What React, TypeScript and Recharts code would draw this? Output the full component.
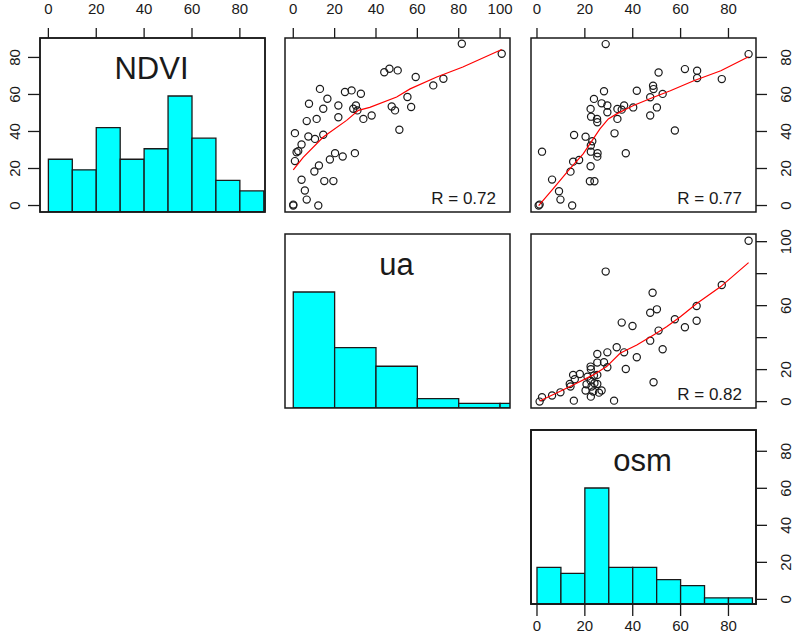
import { ComposedChart, Scatter, XAxis, YAxis, ReferenceArea } from "recharts";

// axis ticks and domains (R extends each range by 4%)
const NDVI_TICKS = [0, 20, 40, 60, 80];
const UA_TICKS = [0, 20, 40, 60, 80, 100];
const OSM_TICKS = [0, 20, 40, 60, 80];
const UA_RIGHT_LABELS = [0, 20, 60, 100];

const NDVI_DOMAIN: [number, number] = [-3.5, 90.5];
const UA_DOMAIN: [number, number] = [-4, 104.8];
const OSM_DOMAIN: [number, number] = [-2.5, 91.5];

// histograms on the diagonal
const NDVI_BREAKS = [0, 10, 20, 30, 40, 50, 60, 70, 80, 90];
const NDVI_COUNTS = [5, 4, 8, 5, 6, 11, 7, 3, 2];
const UA_BREAKS = [0, 20, 40, 60, 80, 100, 120];
const UA_COUNTS = [25, 13, 9, 2, 1, 1];
const OSM_BREAKS = [0, 10, 20, 30, 40, 50, 60, 70, 80, 90];
const OSM_COUNTS = [6, 5, 19, 6, 6, 4, 3, 1, 1];

// upper panels: [x, y]
const UA_NDVI = [
  [81.5, 87.4], [100.8, 82], [44, 72], [46.5, 73.9], [50.5, 73], [59.2, 69.4], [72.6, 68.5],
  [67.7, 64.9], [12.9, 63], [25, 61.3], [28.2, 62.2], [32.7, 60.4], [16.5, 57.7], [7.6, 55],
  [21.8, 54], [14.5, 52.3], [30.3, 54], [29, 52.3], [31, 51.4], [55.2, 58.6], [47.6, 53.5],
  [49.2, 51.4], [57, 53.2], [37.9, 48.6], [33.9, 46.8], [21.8, 47.7], [6.5, 45.6], [11.3, 46.8],
  [51.3, 40.9], [0.8, 39.1], [7.3, 37.3], [10.5, 36], [14.5, 38.2], [4, 33], [2.4, 29.4],
  [1.6, 28.8], [0.8, 24], [20.2, 28.3], [17.7, 24.9], [23.9, 26.5], [29.8, 28.3], [12.4, 21.6],
  [10.2, 18.4], [4, 13.9], [15, 13.2], [19.4, 13.2], [5.6, 8.1], [6.5, 3.2], [12.1, 0],
  [0, 0.5], [0, 0],
];
const UA_NDVI_SMOOTH = [
  [0, 19.3], [4.8, 26], [14.5, 37], [25.8, 46], [31.5, 51.4], [37, 53], [50, 58.6],
  [56.5, 63], [69.4, 69.4], [82, 74.8], [100.8, 84.3],
];

const OSM_NDVI = [
  [28.7, 87.2], [88.4, 81.8], [61.8, 73.7], [50.8, 71.9], [66.9, 72.8], [66.9, 68.9], [77.2, 68.3],
  [28, 61.7], [41.7, 62], [48.5, 64.7], [48.7, 62.9], [52.5, 60.3], [47.3, 58.5], [23.8, 57.6],
  [27, 55.2], [29.4, 54], [22.4, 52.2], [33.6, 52.2], [36.4, 54], [35.4, 51.8], [40.2, 53],
  [29.4, 50.4], [50.1, 53], [22.6, 48], [25.1, 46.8], [25.2, 45], [47.3, 48.6], [33.6, 46.8],
  [57.6, 40.5], [32.4, 39], [15.5, 38.1], [20.3, 37.2], [23.1, 34.7], [22.5, 32.4], [2.1, 29.1],
  [25.3, 28.2], [25.2, 26.4], [37.1, 28.2], [22.5, 29.1], [17.6, 24.6], [15.1, 23.7], [22.4, 21.2],
  [14, 18.3], [6.3, 14], [22.1, 13.1], [24, 13.1], [9.2, 7.7], [9.8, 3.2], [14.7, 0],
  [1.1, 0.5], [0.7, 0],
];
const OSM_NDVI_SMOOTH = [
  [0.7, 0], [6.7, 9], [13.7, 19.8], [19.3, 27.9], [23.5, 36], [26.3, 41.4], [29.8, 46.8],
  [33.3, 49.5], [40.3, 54], [48.7, 58.5], [55.7, 62], [65.5, 67.4], [76.8, 72.8], [88.4, 80.4],
];

const OSM_UA = [
  [88.4, 100.6], [28.7, 81.3], [77.2, 72.9], [48.3, 68.1], [50.1, 57.7], [47.3, 55.6], [66.7, 59.8],
  [57.6, 51.5], [66.7, 50.6], [61.8, 46.5], [35.4, 49.4], [39.9, 47.3], [50.8, 44.4], [47.3, 38.1],
  [52.5, 32.7], [33.3, 34], [36.4, 30.8], [29.4, 30.8], [25.2, 29.8], [41.7, 27.7], [29.4, 21.5],
  [37.1, 20.4], [28, 24.6], [25.2, 24.4], [22.4, 21.9], [22.5, 20.3], [17.9, 17.3], [15.8, 14],
  [13.7, 11], [23.8, 16.3], [21.1, 15.6], [22.4, 13.1], [24, 11.5], [20.7, 10.8], [25.2, 11],
  [20.3, 6.9], [23.5, 6.3], [27, 6.9], [22.5, 3.1], [25.9, 5.6], [48.7, 12.1], [15.1, 16.7],
  [9.8, 5.8], [6.3, 3.8], [2.1, 2.7], [1.1, 0], [15.4, 0.6], [32.2, 0.6], [25.2, 16.7],
  [14, 9.4], [22.8, 9.4],
];
const OSM_UA_SMOOTH = [
  [1.1, 0.4], [9.5, 6.3], [15.1, 10.4], [23.5, 16.7], [29.1, 21.9], [34.7, 30.2], [41.7, 35.4],
  [48.7, 41.7], [54.3, 46.9], [59.9, 53.1], [66.9, 61.5], [76.8, 71.9], [88.4, 86.9],
];

const LABELS = ["NDVI", "ua", "osm"];
const R_TEXT = ["R = 0.72", "R = 0.77", "R = 0.82"];

// layout of the 3x3 grid (boxes in page pixels)
const COLS = [40, 285, 531];
const ROWS = [38, 234, 430];
const W = 225;
const H = 174;
const P = 44;
const FONT = "'Liberation Sans', Arial, Helvetica, sans-serif";
const FS = 17;
const TICK_FS = 15;
const INK = "#1a1a1a";

const toXY = (pts: number[][]) => pts.map(([x, y]) => ({ x, y }));

const Ring = (p: any) => (
  <circle cx={p.cx} cy={p.cy} r={3.6} fill="none" stroke={INK} strokeWidth={1.2} />
);
const NoShape = () => <g />;

const TopTick = (p: any) => (
  <text x={p.x} y={p.y} textAnchor="middle" fontSize={TICK_FS} fontFamily={FONT} fill={INK}>
    {p.payload.value}
  </text>
);
const BottomTick = (p: any) => (
  <text x={p.x} y={p.y} dy={15} textAnchor="middle" fontSize={TICK_FS} fontFamily={FONT} fill={INK}>
    {p.payload.value}
  </text>
);
const LeftTick = (p: any) => {
  const bx = p.x - 8;
  return (
    <text x={bx} y={p.y} transform={`rotate(-90 ${bx} ${p.y})`} textAnchor="middle" fontSize={TICK_FS} fontFamily={FONT} fill={INK}>
      {p.payload.value}
    </text>
  );
};
const makeRightTick = (labels?: number[]) => (p: any) => {
  if (labels && !labels.includes(p.payload.value)) return <g />;
  const bx = p.x + 24;
  return (
    <text x={bx} y={p.y} transform={`rotate(-90 ${bx} ${p.y})`} textAnchor="middle" fontSize={TICK_FS} fontFamily={FONT} fill={INK}>
      {p.payload.value}
    </text>
  );
};

type PanelProps = {
  row: number;
  col: number;
  xDomain: [number, number];
  yDomain: [number, number];
  xTicks?: number[];
  yTicks?: number[];
  xSide?: "top" | "bottom";
  ySide?: "left" | "right";
  yLabels?: number[];
  children?: any;
};

function Panel({ row, col, xDomain, yDomain, xTicks, yTicks, xSide, ySide, yLabels, children }: PanelProps) {
  const margin = {
    top: xSide === "top" ? 0 : P,
    bottom: xSide === "bottom" ? 0 : P,
    left: ySide === "left" ? 0 : P,
    right: ySide === "right" ? 0 : P,
  };
  const tickLine = { stroke: INK, strokeWidth: 1.3 };
  return (
    <div style={{ position: "absolute", left: COLS[col] - P, top: ROWS[row] - P }}>
      <ComposedChart width={W + 2 * P} height={H + 2 * P} margin={margin}>
        <XAxis
          type="number"
          dataKey="x"
          domain={xDomain}
          ticks={xTicks}
          interval={0}
          allowDataOverflow
          hide={!xSide}
          orientation={xSide || "bottom"}
          height={P}
          axisLine={false}
          tickLine={tickLine}
          tickSize={xSide === "top" ? 10 : 12}
          tickMargin={xSide === "top" ? 14 : 0}
          tick={xSide === "top" ? TopTick : BottomTick}
        />
        <YAxis
          type="number"
          dataKey="y"
          domain={yDomain}
          ticks={yTicks}
          interval={0}
          allowDataOverflow
          hide={!ySide}
          orientation={ySide || "left"}
          width={P}
          axisLine={false}
          tickLine={tickLine}
          tickSize={ySide === "left" ? 12 : 11}
          tickMargin={0}
          tick={ySide === "left" ? LeftTick : makeRightTick(yLabels)}
        />
        {children}
        <ReferenceArea
          x1={xDomain[0]}
          x2={xDomain[1]}
          y1={yDomain[0]}
          y2={yDomain[1]}
          fill="none"
          stroke={INK}
          strokeWidth={1.5}
          ifOverflow="visible"
        />
      </ComposedChart>
    </div>
  );
}

function histBars(breaks: number[], counts: number[]) {
  return counts.map((c, i) => (
    <ReferenceArea
      key={i}
      x1={breaks[i]}
      x2={breaks[i + 1]}
      y1={0}
      y2={c}
      fill="#00ffff"
      fillOpacity={1}
      stroke={INK}
      strokeWidth={1.3}
      ifOverflow="hidden"
    />
  ));
}

function scatterSeries(points: number[][], smooth: number[][]) {
  return [
    <Scatter key="pts" data={toXY(points)} shape={Ring} isAnimationActive={false} />,
    <Scatter
      key="smooth"
      data={toXY(smooth)}
      shape={NoShape}
      fill="#ff0000"
      line={{ stroke: "#ff0000", strokeWidth: 1.2 }}
      lineType="joint"
      isAnimationActive={false}
    />,
  ];
}

const histDomain = (counts: number[]): [number, number] => [0, Math.max(...counts) * 1.5];

export default function App() {
  return (
    <div style={{ position: "absolute", left: 0, top: 0, width: 795, height: 643, background: "#fff", overflow: "hidden" }}>
      <Panel row={0} col={0} xDomain={NDVI_DOMAIN} yDomain={histDomain(NDVI_COUNTS)} xTicks={NDVI_TICKS} xSide="top">
        {histBars(NDVI_BREAKS, NDVI_COUNTS)}
      </Panel>
      {/* left axis of row 1 uses the NDVI scale */}
      <Panel row={0} col={0} xDomain={NDVI_DOMAIN} yDomain={NDVI_DOMAIN} yTicks={NDVI_TICKS} ySide="left" />
      <Panel row={0} col={1} xDomain={UA_DOMAIN} yDomain={NDVI_DOMAIN} xTicks={UA_TICKS} xSide="top">
        {scatterSeries(UA_NDVI, UA_NDVI_SMOOTH)}
      </Panel>
      <Panel row={0} col={2} xDomain={OSM_DOMAIN} yDomain={NDVI_DOMAIN} xTicks={OSM_TICKS} xSide="top" yTicks={NDVI_TICKS} ySide="right">
        {scatterSeries(OSM_NDVI, OSM_NDVI_SMOOTH)}
      </Panel>
      <Panel row={1} col={1} xDomain={UA_DOMAIN} yDomain={histDomain(UA_COUNTS)}>
        {histBars(UA_BREAKS, UA_COUNTS)}
      </Panel>
      <Panel row={1} col={2} xDomain={OSM_DOMAIN} yDomain={UA_DOMAIN} yTicks={UA_TICKS} ySide="right" yLabels={UA_RIGHT_LABELS}>
        {scatterSeries(OSM_UA, OSM_UA_SMOOTH)}
      </Panel>
      <Panel row={2} col={2} xDomain={OSM_DOMAIN} yDomain={histDomain(OSM_COUNTS)} xTicks={OSM_TICKS} xSide="bottom" />
      <Panel row={2} col={2} xDomain={OSM_DOMAIN} yDomain={histDomain(OSM_COUNTS)}>
        {histBars(OSM_BREAKS, OSM_COUNTS)}
      </Panel>
      <Panel row={2} col={2} xDomain={OSM_DOMAIN} yDomain={OSM_DOMAIN} yTicks={OSM_TICKS} ySide="right" />
      <svg width={795} height={643} style={{ position: "absolute", left: 0, top: 0, pointerEvents: "none" }}>
        {LABELS.map((t, i) => (
          <text key={t} x={COLS[i] + W / 2 - 1} y={ROWS[i] + 40.5} textAnchor="middle" fontSize={31} fontFamily={FONT} fill={INK}>
            {t}
          </text>
        ))}
        {[[0, 1], [0, 2], [1, 2]].map(([r, c], i) => (
          <text key={i} x={COLS[c] + W - 14} y={ROWS[r] + H - 8} textAnchor="end" fontSize={FS} fontFamily={FONT} fill={INK}>
            {R_TEXT[i]}
          </text>
        ))}
      </svg>
    </div>
  );
}
